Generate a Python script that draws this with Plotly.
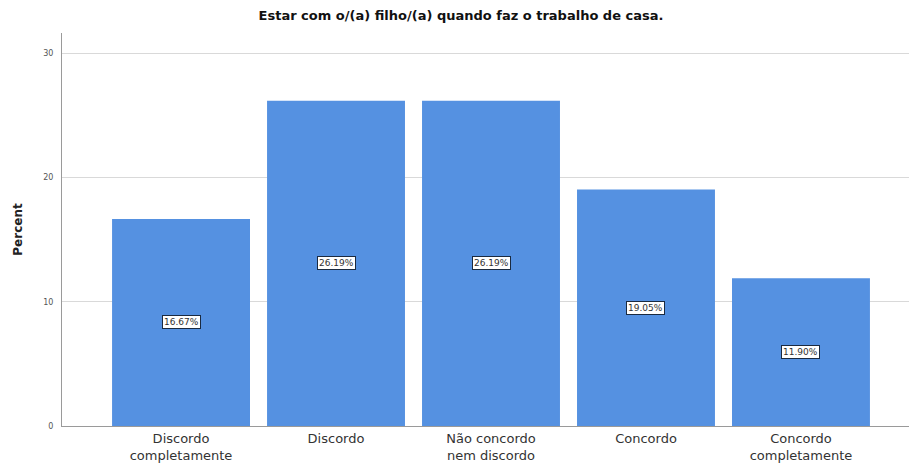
import plotly.graph_objects as go

categories = ["Discordo<br>completamente", "Discordo", "Não concordo<br>nem discordo", "Concordo", "Concordo<br>completamente"]
percents = [16.67, 26.19, 26.19, 19.05, 11.90]
tick_vals = [0, 10, 20, 30]
title_text = "Estar com o/(a) filho/(a) quando faz o trabalho de casa."

x_idx = list(range(len(categories)))

fig = go.Figure()
fig.add_trace(go.Bar(
    x=x_idx, y=percents,
    marker=dict(color="#5591E1", line=dict(width=0)),
    width=0.89,
    hoverinfo="skip",
))

for i, v in zip(x_idx, percents):
    fig.add_annotation(
        x=i, y=v / 2, xref="x", yref="y",
        text=f"{v:.2f}%", showarrow=False,
        font=dict(family="DejaVu Sans", size=9, color="#333333"),
        bgcolor="white", bordercolor="#1a2a40", borderwidth=1, borderpad=1,
    )

fig.update_layout(
    width=909, height=465,
    margin=dict(l=62, r=0, t=33, b=39),
    paper_bgcolor="white", plot_bgcolor="white",
    showlegend=False,
    title=dict(text=f"<b>{title_text}</b>", x=461 / 909, xanchor="center",
               y=1 - 15 / 465, yanchor="middle",
               font=dict(family="DejaVu Sans", size=13, color="#111111")),
    xaxis=dict(
        range=[-0.768, 4.697], tickmode="array", tickvals=x_idx, ticktext=categories,
        showgrid=False, showline=True, linecolor="#9a9a9a", linewidth=1,
        ticks="", tickfont=dict(family="DejaVu Sans", size=13, color="#333333"),
        zeroline=False,
    ),
    yaxis=dict(
        range=[0, 31.64], tickmode="array", tickvals=tick_vals,
        showgrid=True, gridcolor="#d9d9d9", gridwidth=1,
        showline=True, linecolor="#9a9a9a", linewidth=1,
        ticks="", ticklabelstandoff=6,
        tickfont=dict(family="DejaVu Sans", size=8, color="#555555"),
        zeroline=False,
        title=dict(text="<b>Percent</b>", standoff=18,
                   font=dict(family="DejaVu Sans", size=12, color="#222222")),
    ),
)

fig.write_html("out.html")
